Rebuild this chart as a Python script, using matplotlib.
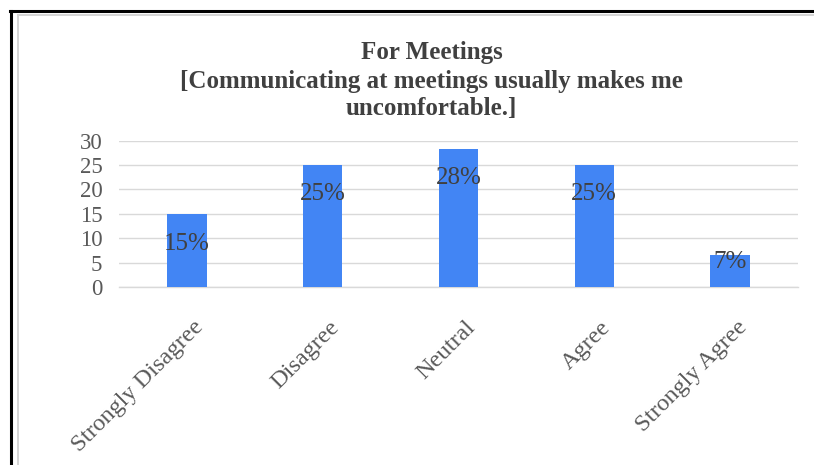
import matplotlib
matplotlib.use("Agg")
import matplotlib.pyplot as plt
from matplotlib.lines import Line2D
from matplotlib.transforms import ScaledTranslation

# ── Survey data ─────────────────────────────────────────────────────────────

categories = ["Strongly Disagree", "Disagree", "Neutral", "Agree", "Strongly Agree"]
percent = [14.9, 25.1, 28.3, 25.1, 6.6]
y_ticks = [0, 5, 10, 15, 20, 25, 30]

title_lines = [
    "For Meetings",
    "[Communicating at meetings usually makes me",
    "uncomfortable.]",
]

BAR_COLOR = "#4285F4"
GRID_COLOR = "#d9d9d9"
TEXT_DARK = "#404040"
TEXT_GRAY = "#595959"

plt.rcParams["font.family"] = ["Liberation Serif", "DejaVu Serif"]

fig = plt.figure(figsize=(8.14, 4.65), dpi=100)
ax = fig.add_axes([0.1462, 0.3828, 0.8341, 0.3146])

x = list(range(len(categories)))
ax.bar(x, percent, width=0.29, color=BAR_COLOR, zorder=3)

# value labels just inside the top of each bar
for xi, v in zip(x, percent):
    off = -21 if v > 10 else -5.5
    ax.annotate(f"{v:.0f}%", (xi, v), xytext=(0, off), textcoords="offset points",
                ha="center", va="center", fontsize=18, color=TEXT_DARK, zorder=4)

# ── Axes styling ────────────────────────────────────────────────────────────

ax.set_xlim(-0.5, len(categories) - 0.5)
ax.set_ylim(0, 30)
ax.set_yticks(y_ticks)
ax.set_yticklabels([str(t) for t in y_ticks])
ax.yaxis.grid(True, color=GRID_COLOR, linewidth=1.0, zorder=0)
ax.set_axisbelow(True)

for side in ["top", "right", "left"]:
    ax.spines[side].set_visible(False)
ax.spines["bottom"].set_color(GRID_COLOR)
ax.spines["bottom"].set_linewidth(1.0)

ax.set_xticks(x)
ax.set_xticklabels(categories, rotation=45, ha="right", va="top",
                   rotation_mode="anchor", fontsize=17.5, color=TEXT_GRAY)
ax.tick_params(axis="x", length=0, pad=21.5)
ax.tick_params(axis="y", length=0, pad=12, labelsize=16.5, labelcolor=TEXT_GRAY)

# nudge the slanted category labels a little to the right
shift = ScaledTranslation(0.06, 0, fig.dpi_scale_trans)
for lbl in ax.get_xticklabels():
    lbl.set_transform(lbl.get_transform() + shift)

# ── Title ───────────────────────────────────────────────────────────────────

title_baselines = [59, 88, 115]  # pixels from the top
for line, yb in zip(title_lines, title_baselines):
    fig.text(0.53, 1 - yb / 465, line, ha="center", va="baseline",
             fontsize=18, fontweight="bold", color=TEXT_DARK)

# ── Frame around the chart ─────────────────────────────────────────────────

fig.add_artist(Line2D([0.0141, 0.0141], [0.9774, 0.0], transform=fig.transFigure,
                      color="black", linewidth=2.2))
fig.add_artist(Line2D([0.0123, 1.0], [0.9774, 0.9774], transform=fig.transFigure,
                      color="black", linewidth=2.2))
fig.add_artist(Line2D([0.0227, 0.0227], [0.9677, 0.0], transform=fig.transFigure,
                      color="#d4d4d4", linewidth=1.4))
fig.add_artist(Line2D([0.0227, 1.0], [0.9677, 0.9677], transform=fig.transFigure,
                      color="#d4d4d4", linewidth=1.4))

fig.savefig("out.png", dpi=100)
